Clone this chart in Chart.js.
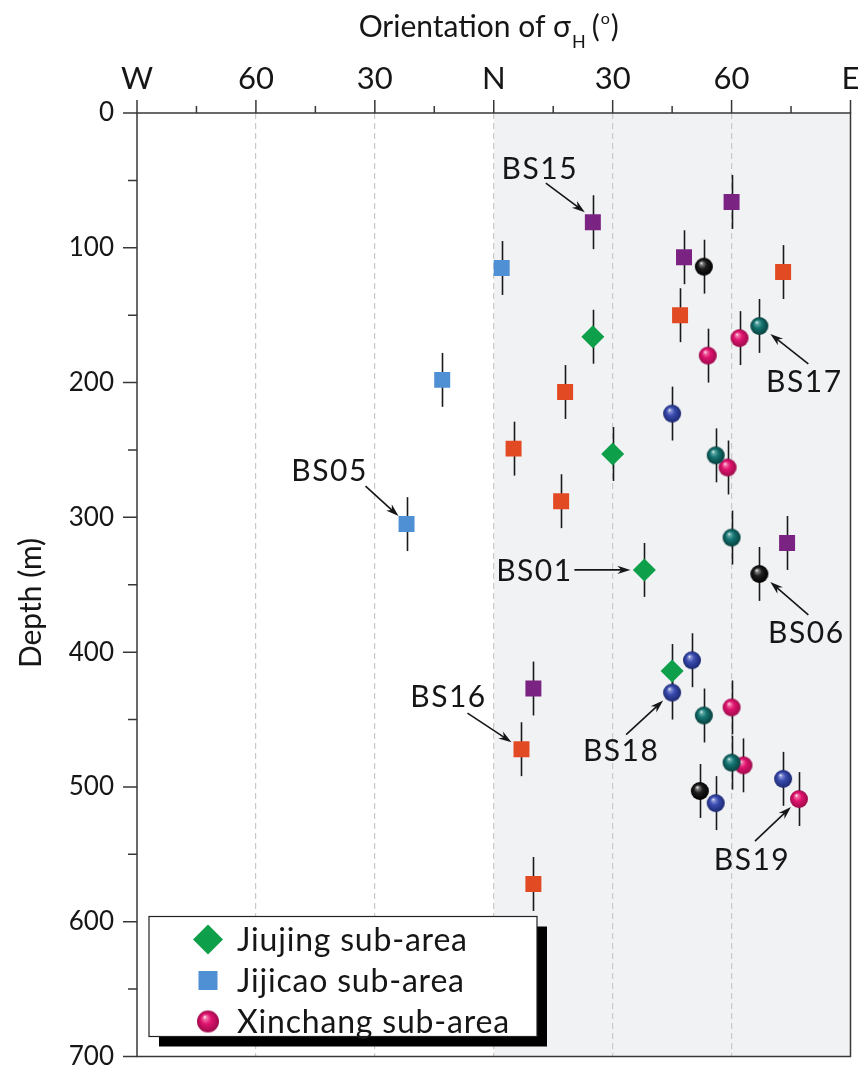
<!DOCTYPE html>
<html lang="en">
<head>
<meta charset="UTF-8">
<title>Orientation of sigma H with depth</title>
<script src="https://cdn.jsdelivr.net/npm/chart.js"></script>
<style>
  body { margin: 0; background: #fff; }
  canvas { display: block; }
</style>
</head>
<body>
<canvas id="stressChart" width="862" height="1068"></canvas>
<script>
// azimuth of sigma H in degrees (W = -90, N = 0, E = 90), depth in metres
const jiujingAzimuth = [25, 30, 38, 45];
const jiujingDepth   = [166, 253, 339, 414];

const jijicaoAzimuth = [2, -13, -22];
const jijicaoDepth   = [115, 198, 305];

const xinchangAzimuth = [62, 54, 59, 60, 63, 77];
const xinchangDepth   = [167, 180, 263, 441, 484, 509];

const orangeAzimuth = [73, 47, 18, 5, 17, 7, 10];
const orangeDepth   = [118, 150, 207, 249, 288, 472, 572];

const purpleAzimuth = [25, 60, 48, 74, 10];
const purpleDepth   = [81, 66, 107, 319, 427];

const tealAzimuth = [67, 56, 60, 53, 60];
const tealDepth   = [158, 254, 315, 447, 482];

const blueAzimuth = [45, 50, 45, 56, 73];
const blueDepth   = [223, 406, 430, 512, 494];

const blackAzimuth = [53, 67, 52];
const blackDepth   = [114, 342, 503];

const depthError = 20; // half length of the vertical bars (m)

const xTickValues = [-90, -60, -30, 0, 30, 60, 90];
const xTickLabels = ['W', '60', '30', 'N', '30', '60', 'E'];
const yTickValues = [0, 100, 200, 300, 400, 500, 600, 700];

// labelled boreholes: which series / point they point at
const wellNames  = ['BS15', 'BS17', 'BS05', 'BS01', 'BS06', 'BS16', 'BS18', 'BS19'];
const wellSeries = ['purple', 'teal', 'jijicao', 'jiujing', 'black', 'orange', 'blue', 'xinchang'];
const wellIndex  = [0, 0, 2, 2, 1, 5, 2, 5];

const FONT = 'Lato, "Open Sans", sans-serif';
const INK = '#161616';

// text offset, arrow tail, arrow head - in pixels from the marked point
const labelLayout = {
  BS15: { text: [-53, -53], tail: [-47, -39], head: [-8, -10] },
  BS17: { text: [45, 56],   tail: [49, 38],   head: [11, 8] },
  BS05: { text: [-77, -53], tail: [-41, -38], head: [-8, -8] },
  BS01: { text: [-110, 1],  tail: [-70, 0],   head: [-14, 0] },
  BS06: { text: [47, 59],   tail: [49, 41],   head: [11, 8] },
  BS16: { text: [-73, -52], tail: [-54, -36], head: [-10, -7] },
  BS18: { text: [-51, 59],  tail: [-46, 42],  head: [-9, 8] },
  BS19: { text: [-47, 61],  tail: [-44, 42],  head: [-8, 8] }
};

function toPoints(xs, ys) {
  return xs.map((x, i) => ({ x: x, y: ys[i] }));
}

// little shaded ball used as a point style
function makeBall(base, light, dark, r) {
  const c = document.createElement('canvas');
  const s = Math.ceil(r * 2 + 2);
  c.width = s;
  c.height = s;
  const g = c.getContext('2d');
  const cx = s / 2, cy = s / 2;
  const grad = g.createRadialGradient(cx - r * 0.3, cy - r * 0.42, r * 0.03, cx, cy, r);
  grad.addColorStop(0, '#ffffff');
  grad.addColorStop(0.12, light);
  grad.addColorStop(0.45, base);
  grad.addColorStop(1, dark);
  g.fillStyle = grad;
  g.beginPath();
  g.arc(cx, cy, r, 0, Math.PI * 2);
  g.fill();
  return c;
}

const ballColors = {
  xinchang: ['#e0136f', '#f37aae', '#9e0b4b'],
  teal:     ['#147471', '#6cb0ad', '#073f3d'],
  blue:     ['#3a4bb0', '#8d98d8', '#1b2870'],
  black:    ['#1e1e1e', '#8a8a8a', '#000000']
};

const series = [
  { key: 'orange',   xs: orangeAzimuth,   ys: orangeDepth,   style: 'rect',    radius: 11.3, color: '#e24a24' },
  { key: 'purple',   xs: purpleAzimuth,   ys: purpleDepth,   style: 'rect',    radius: 11.3, color: '#7b2382' },
  { key: 'jijicao',  xs: jijicaoAzimuth,  ys: jijicaoDepth,  style: 'rect',    radius: 11.3, color: '#4f8fd3', label: 'Jijicao sub-area' },
  { key: 'jiujing',  xs: jiujingAzimuth,  ys: jiujingDepth,  style: 'rectRot', radius: 11.5, color: '#0e9f4a', label: 'Jiujing sub-area' },
  { key: 'teal',     xs: tealAzimuth,     ys: tealDepth,     style: 'ball',    radius: 9 },
  { key: 'blue',     xs: blueAzimuth,     ys: blueDepth,     style: 'ball',    radius: 9 },
  { key: 'black',    xs: blackAzimuth,    ys: blackDepth,    style: 'ball',    radius: 9 },
  { key: 'xinchang', xs: xinchangAzimuth, ys: xinchangDepth, style: 'ball',    radius: 9, label: 'Xinchang sub-area' }
];

const datasets = series.map(s => {
  let pointStyle = s.style;
  let color = s.color;
  if (s.style === 'ball') {
    const bc = ballColors[s.key];
    pointStyle = makeBall(bc[0], bc[1], bc[2], s.radius);
    color = bc[0];
  }
  return {
    label: s.label || s.key,
    key: s.key,
    data: toPoints(s.xs, s.ys),
    pointStyle: pointStyle,
    pointRadius: s.radius,
    pointHoverRadius: s.radius,
    backgroundColor: color,
    borderWidth: 0
  };
});

function pointPixel(chart, key, idx) {
  const i = datasets.findIndex(d => d.key === key);
  const p = datasets[i].data[idx];
  return [chart.scales.x.getPixelForValue(p.x), chart.scales.y.getPixelForValue(p.y)];
}

function drawArrow(ctx, x1, y1, x2, y2) {
  const ang = Math.atan2(y2 - y1, x2 - x1);
  const len = 13, half = 4.2;
  ctx.beginPath();
  ctx.moveTo(x1, y1);
  ctx.lineTo(x2 - Math.cos(ang) * 6, y2 - Math.sin(ang) * 6);
  ctx.stroke();
  ctx.save();
  ctx.translate(x2, y2);
  ctx.rotate(ang);
  ctx.beginPath();
  ctx.moveTo(0, 0);
  ctx.lineTo(-len, -half);
  ctx.lineTo(-len + 4, 0);
  ctx.lineTo(-len, half);
  ctx.closePath();
  ctx.fill();
  ctx.restore();
}

const plotDecor = {
  id: 'plotDecor',
  beforeDraw(chart) {
    const { ctx, chartArea: a, scales: { x } } = chart;
    ctx.save();
    ctx.fillStyle = '#ffffff';
    ctx.fillRect(0, 0, chart.width, chart.height);
    // eastern half shaded
    const x0 = x.getPixelForValue(0), x1 = x.getPixelForValue(90);
    ctx.fillStyle = '#f1f2f4';
    ctx.fillRect(x0, a.top, x1 - x0, a.bottom - a.top);
    ctx.restore();
  },
  beforeDatasetsDraw(chart) {
    const { ctx, scales: { x, y } } = chart;
    ctx.save();
    ctx.strokeStyle = '#1a1a1a';
    ctx.lineWidth = 1.6;
    datasets.forEach(ds => {
      ds.data.forEach(p => {
        const px = Math.round(x.getPixelForValue(p.x)) + 0.5;
        ctx.beginPath();
        ctx.moveTo(px, y.getPixelForValue(p.y - depthError));
        ctx.lineTo(px, y.getPixelForValue(p.y + depthError));
        ctx.stroke();
      });
    });
    ctx.restore();
  },
  afterDraw(chart) {
    const { ctx, chartArea: a, scales: { x, y } } = chart;
    ctx.save();

    // frame
    ctx.strokeStyle = '#383838';
    ctx.lineWidth = 1.5;
    ctx.strokeRect(a.left, a.top, a.right - a.left, a.bottom - a.top);

    // tick marks on the top axis
    ctx.beginPath();
    for (let i = 0; i < xTickValues.length; i++) {
      const px = x.getPixelForValue(xTickValues[i]);
      ctx.moveTo(px, a.top);
      ctx.lineTo(px, a.top - 13);
      if (i < xTickValues.length - 1) {
        const pm = x.getPixelForValue((xTickValues[i] + xTickValues[i + 1]) / 2);
        ctx.moveTo(pm, a.top);
        ctx.lineTo(pm, a.top - 7);
      }
    }
    // tick marks on the depth axis
    for (let i = 0; i < yTickValues.length; i++) {
      const py = y.getPixelForValue(yTickValues[i]);
      ctx.moveTo(a.left, py);
      ctx.lineTo(a.left - 14, py);
      if (i < yTickValues.length - 1) {
        const pm = y.getPixelForValue((yTickValues[i] + yTickValues[i + 1]) / 2);
        ctx.moveTo(a.left, pm);
        ctx.lineTo(a.left - 9, pm);
      }
    }
    ctx.stroke();

    // axis titles
    ctx.fillStyle = INK;
    ctx.textBaseline = 'alphabetic';
    ctx.textAlign = 'left';
    const big = '30px ' + FONT, sub = '18px ' + FONT, sup = '16px ' + FONT;
    const parts = [
      ['Orientation of \u03C3', big, 0, 1],
      ['H', sub, 11, 6],
      ['(', big, 0, 1],
      ['o', sup, -13, 1],
      [')', big, 0, 0]
    ];
    let total = 0;
    parts.forEach(p => { ctx.font = p[1]; total += ctx.measureText(p[0]).width + p[3]; });
    let tx = (a.left + a.right) / 2 - total / 2 - 5;
    const ty = 37;
    parts.forEach(p => {
      ctx.font = p[1];
      ctx.fillText(p[0], tx, ty + p[2]);
      tx += ctx.measureText(p[0]).width + p[3];
    });

    ctx.save();
    ctx.translate(31, 603);
    ctx.rotate(-Math.PI / 2);
    ctx.textAlign = 'center';
    ctx.textBaseline = 'middle';
    ctx.font = big;
    ctx.fillText('Depth (m)', 0, 0);
    ctx.restore();

    // borehole labels with arrows
    ctx.font = '30px ' + FONT;
    ctx.letterSpacing = '1.5px';
    ctx.textAlign = 'center';
    ctx.textBaseline = 'middle';
    ctx.strokeStyle = INK;
    ctx.lineWidth = 1.6;
    wellNames.forEach((name, i) => {
      const [px, py] = pointPixel(chart, wellSeries[i], wellIndex[i]);
      const L = labelLayout[name];
      ctx.fillText(name, px + L.text[0], py + L.text[1]);
      drawArrow(ctx, px + L.tail[0], py + L.tail[1], px + L.head[0], py + L.head[1]);
    });

    // legend box with drop shadow
    const bx = a.left + 12, by = a.bottom - 140, bw = 388, bh = 120;
    ctx.fillStyle = '#000';
    ctx.fillRect(bx + 10, by + 10, bw, bh);
    ctx.fillStyle = '#fff';
    ctx.fillRect(bx, by, bw, bh);
    ctx.strokeStyle = '#222';
    ctx.lineWidth = 1.2;
    ctx.strokeRect(bx, by, bw, bh);

    const legendKeys = ['jiujing', 'jijicao', 'xinchang'];
    ctx.font = '32px ' + FONT;
    ctx.letterSpacing = '0.8px';
    ctx.textAlign = 'left';
    ctx.textBaseline = 'middle';
    legendKeys.forEach((k, i) => {
      const ds = datasets.find(d => d.key === k);
      const mx = bx + 59, my = by + 23 + i * 41;
      if (ds.pointStyle === 'rectRot') {
        ctx.fillStyle = ds.backgroundColor;
        ctx.beginPath();
        ctx.moveTo(mx - 15, my); ctx.lineTo(mx, my - 15);
        ctx.lineTo(mx + 15, my); ctx.lineTo(mx, my + 15);
        ctx.closePath();
        ctx.fill();
      } else if (ds.pointStyle === 'rect') {
        ctx.fillStyle = ds.backgroundColor;
        ctx.fillRect(mx - 9.5, my - 9.5, 19, 19);
      } else {
        const bc = ballColors[k];
        const ball = makeBall(bc[0], bc[1], bc[2], 11);
        ctx.drawImage(ball, mx - ball.width / 2, my - ball.height / 2);
      }
      ctx.fillStyle = INK;
      ctx.fillText(ds.label, bx + 88, my + 1);
    });
    ctx.letterSpacing = '0px';

    ctx.restore();
  }
};

Chart.defaults.font.family = FONT;

new Chart(document.getElementById('stressChart'), {
  type: 'scatter',
  data: { datasets: datasets },
  options: {
    responsive: false,
    animation: false,
    events: [],
    layout: { padding: { left: 0, top: 0, right: 9, bottom: 9 } },
    plugins: {
      legend: { display: false },
      tooltip: { enabled: false }
    },
    scales: {
      x: {
        type: 'linear',
        position: 'top',
        min: -90,
        max: 90,
        afterBuildTicks: scale => { scale.ticks = xTickValues.map(v => ({ value: v })); },
        afterFit: scale => {
          scale.height = 113;
          scale.paddingLeft = 0;
          scale.paddingRight = 0;
        },
        ticks: {
          autoSkip: false,
          maxRotation: 0,
          padding: 15,
          color: INK,
          font: { size: 31 },
          callback: v => xTickLabels[xTickValues.indexOf(v)]
        },
        grid: {
          drawTicks: false,
          lineWidth: 1.2,
          color: c => (c.tick && c.tick.value > -90 && c.tick.value < 90) ? '#c9c9c9' : 'rgba(0,0,0,0)'
        },
        border: { display: false, dash: [6, 4] }
      },
      y: {
        type: 'linear',
        reverse: true,
        min: 0,
        max: 700,
        afterBuildTicks: scale => { scale.ticks = yTickValues.map(v => ({ value: v })); },
        afterFit: scale => {
          scale.width = 137;
          scale.paddingTop = 0;
          scale.paddingBottom = 0;
        },
        ticks: {
          autoSkip: false,
          padding: 23,
          color: INK,
          font: { size: 26 }
        },
        grid: { display: false, drawTicks: false },
        border: { display: false }
      }
    }
  },
  plugins: [plotDecor]
});
</script>
</body>
</html>
